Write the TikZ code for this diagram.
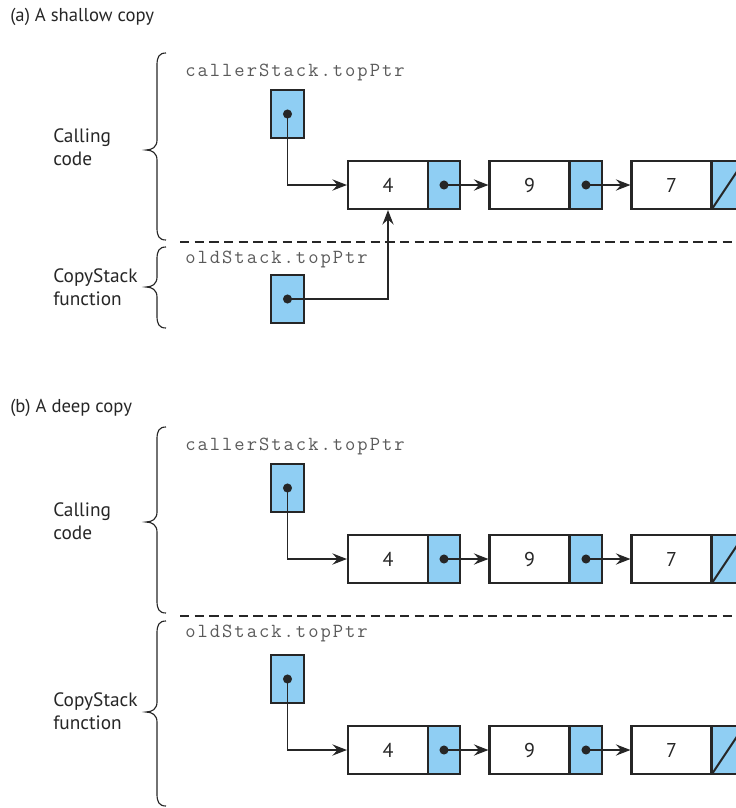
\documentclass[tikz,border=0pt]{standalone}
\usepackage{fontspec}
\setmainfont{PT Sans}
\newfontfamily\codefont[LetterSpace=10]{Latin Modern Mono}
\usetikzlibrary{arrows.meta}
\definecolor{cellblue}{HTML}{8FCEF3}
\definecolor{ink}{HTML}{262626}
\definecolor{codegray}{HTML}{5A5A5A}
\newcommand\mybrace[3]{\draw[bracepath] (166,#1) .. controls (159,#1) and (157,{#1+4}) .. (157,{#1+12}) -- (157,{#2-10}) .. controls (157,{#2-3}) and (152,#2) .. (146,#2) .. controls (152,#2) and (157,{#2+3}) .. (157,{#2+10}) -- (157,{#3-12}) .. controls (157,{#3-4}) and (159,#3) .. (166,#3);}
\begin{document}
\begin{tikzpicture}[x=0.75pt,y=-0.75pt,
 cell/.style={draw=ink, line width=2pt, minimum height=36pt, inner sep=0pt, outer sep=0pt, font=\fontsize{15}{18}\selectfont, text=ink},
 datacell/.style={cell, fill=white, minimum width=60pt},
 ptrcell/.style={cell, fill=cellblue, minimum width=24pt},
 topptr/.style={cell, fill=cellblue, minimum width=24.75pt},
 link/.style={draw=ink, line width=0.85pt, shorten >=0.8pt, -{Stealth[length=11pt,width=8.5pt,inset=4pt]}},
 divider/.style={draw=ink, line width=1.4pt, dash pattern=on 7pt off 4pt},
 bracepath/.style={draw=ink, line width=0.85pt},
 grouplabel/.style={anchor=west, align=left, font=\fontsize{14.5}{17.5}\selectfont, text=ink, inner sep=0pt},
 parttitle/.style={anchor=west, font=\fontsize{14}{17}\selectfont, text=ink, inner sep=0pt},
 code/.style={anchor=west, font=\codefont\fontsize{15}{18}\selectfont, text=codegray, inner sep=0pt},
 slash/.style={draw=ink, line width=1.5pt},
 dotr/.style={fill=ink},
]
\useasboundingbox (0,0) rectangle (736,808);
\clip (0,0) rectangle (736,808);

% ---------------- (a) ----------------
\node[parttitle] (ta) at (10,17) {(a) A shallow copy};
\mybrace{53}{150}{240}
\node[grouplabel] (la1) at (53,147) {Calling\\code};
\node[code] (ca1) at (185,72) {callerStack.topPtr};
\node[topptr] (pa1) at (287.5,114) {};

\node[datacell] (a4) at (388,185) {4};
\node[ptrcell] (a4p) at (444,185) {};
\node[datacell] (a9) at (529.5,185) {9};
\node[ptrcell] (a9p) at (586,185) {};
\node[datacell] (a7) at (671.5,185) {7};
\node[ptrcell] (a7p) at (728,185) {};
\draw[slash] (a7p.south west) -- (a7p.north east);

\fill[dotr] (pa1.center) circle[radius=3.4pt];
\draw[link] (pa1.center) |- (a4.west);
\fill[dotr] (a4p.center) circle[radius=3.4pt];
\draw[link] (a4p.center) -- (a9.west);
\fill[dotr] (a9p.center) circle[radius=3.4pt];
\draw[link] (a9p.center) -- (a7.west);

\draw[divider] (180,242) -- (740,242);

\mybrace{247}{287}{328}
\node[grouplabel] (la2) at (53,287) {CopyStack\\function};
\node[code] (ca2) at (185,259) {oldStack.topPtr};
\node[topptr] (pa2) at (287.5,299) {};
\fill[dotr] (pa2.center) circle[radius=3.4pt];
\draw[link] (pa2.center) -| (a4.south);

% ---------------- (b) ----------------
\node[parttitle] (tb) at (10,408) {(b) A deep copy};
\mybrace{427}{522}{613}
\node[grouplabel] (lb1) at (53,521) {Calling\\code};
\node[code] (cb1) at (185,446) {callerStack.topPtr};
\node[topptr] (pb1) at (287.5,488) {};

\node[datacell] (b4) at (388,559) {4};
\node[ptrcell] (b4p) at (444,559) {};
\node[datacell] (b9) at (529.5,559) {9};
\node[ptrcell] (b9p) at (586,559) {};
\node[datacell] (b7) at (671.5,559) {7};
\node[ptrcell] (b7p) at (728,559) {};
\draw[slash] (b7p.south west) -- (b7p.north east);

\fill[dotr] (pb1.center) circle[radius=3.4pt];
\draw[link] (pb1.center) |- (b4.west);
\fill[dotr] (b4p.center) circle[radius=3.4pt];
\draw[link] (b4p.center) -- (b9.west);
\fill[dotr] (b9p.center) circle[radius=3.4pt];
\draw[link] (b9p.center) -- (b7.west);

\draw[divider] (180,616) -- (740,616);

\mybrace{621}{712}{806}
\node[grouplabel] (lb2) at (53,711) {CopyStack\\function};
\node[code] (cb2) at (185,633) {oldStack.topPtr};
\node[topptr] (pb2) at (287.5,679) {};

\node[datacell] (c4) at (388,750) {4};
\node[ptrcell] (c4p) at (444,750) {};
\node[datacell] (c9) at (529.5,750) {9};
\node[ptrcell] (c9p) at (586,750) {};
\node[datacell] (c7) at (671.5,750) {7};
\node[ptrcell] (c7p) at (728,750) {};
\draw[slash] (c7p.south west) -- (c7p.north east);

\fill[dotr] (pb2.center) circle[radius=3.4pt];
\draw[link] (pb2.center) |- (c4.west);
\fill[dotr] (c4p.center) circle[radius=3.4pt];
\draw[link] (c4p.center) -- (c9.west);
\fill[dotr] (c9p.center) circle[radius=3.4pt];
\draw[link] (c9p.center) -- (c7.west);
\end{tikzpicture}
\end{document}
